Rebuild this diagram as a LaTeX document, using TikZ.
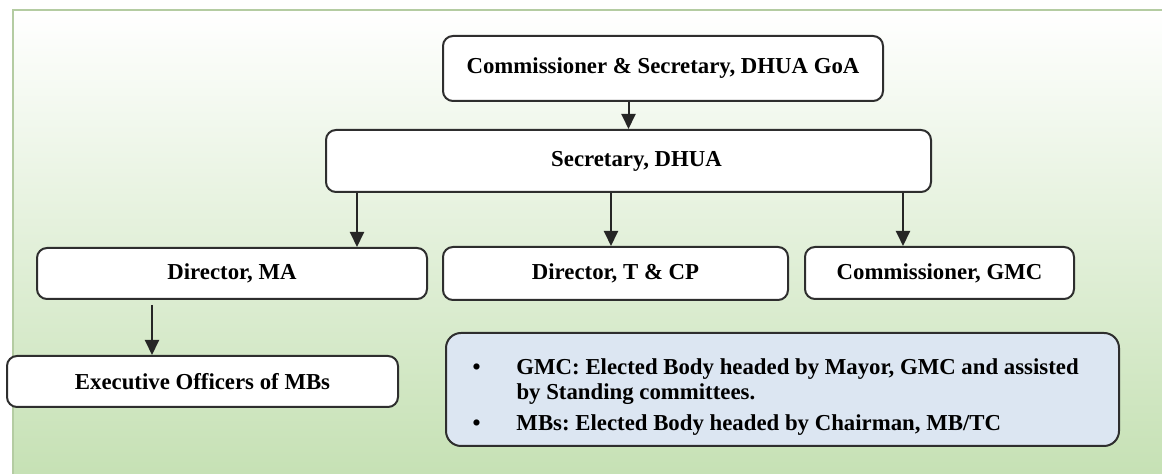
\documentclass[tikz,border=0pt]{standalone}
\usepackage{fontspec}
\setmainfont{Liberation Serif}
\usepackage{array}
\usepackage{tikz}
\usetikzlibrary{arrows.meta, positioning, calc}
\definecolor{framegreen}{HTML}{B4CCA2}
\definecolor{bggreen}{HTML}{C4E0B2}
\definecolor{bgmid}{HTML}{E8F1E1}
\definecolor{noteblue}{HTML}{DCE6F2}
\definecolor{boxline}{HTML}{2E2E2E}

\begin{document}
\begin{tikzpicture}[x=0.5pt, y=-0.5pt,
    box/.style={draw=boxline, line width=1pt, rounded corners=5pt, fill=white,
        font=\fontsize{11.4}{13}\selectfont\bfseries, inner sep=0pt},
    notebox/.style={draw=boxline, line width=1pt, rounded corners=7.5pt, fill=noteblue,
        font=\fontsize{11.4}{12.5}\selectfont\bfseries\frenchspacing, inner sep=0pt},
    arr/.style={-{Triangle[width=7pt,length=7.5pt]}, line width=1pt, draw=black!85}]
    % background
    \useasboundingbox (0,0) rectangle (1162,474);
    \begin{scope}
        \clip (0,0) rectangle (1162,474);
        \shade[top color=white, middle color=bgmid, bottom color=bggreen] (13,10) rectangle (1180,490);
        \draw[framegreen, line width=1.2pt] (13,490) -- (13,10) -- (1180,10);
    \end{scope}

    % boxes
    \node[box, minimum width=220pt, minimum height=32.5pt] (top) at (663,68.5) {Commissioner \& Secretary, DHUA GoA};
    \node[box, minimum width=302.5pt, minimum height=31pt] (sec) at (628.5,161) {\hspace*{8pt}Secretary, DHUA};
    \node[box, minimum width=195pt, minimum height=25.5pt] (dma) at (232,273.5) {Director, MA};
    \node[box, minimum width=172.5pt, minimum height=26.5pt] (dtcp) at (615.5,273.5) {Director, T \& CP};
    \node[box, minimum width=134.5pt, minimum height=26pt] (cgmc) at (939.5,273) {Commissioner, GMC};
    \node[box, minimum width=195.5pt, minimum height=25.5pt] (exo) at (202.5,381.5) {Executive Officers of MBs};

    % notes
    \node[notebox, minimum width=336.5pt, minimum height=56.5pt] (notes) at (782.5,389.5) {%
        \begin{tabular}{@{}p{22pt}@{}>{\raggedright\arraybackslash}p{288pt}@{}}
            \noalign{\vskip 8.5pt}
            \textbullet & GMC: Elected Body headed by Mayor, GMC and assisted by Standing committees.\\
            \noalign{\vskip 3pt}
            \textbullet & MBs: Elected Body headed by Chairman, MB/TC
        \end{tabular}};

    % arrows
    \draw[arr] (top.south -| sec.north) -- (sec.north);
    \draw[arr] (sec.south -| 357,0) -- (dma.north -| 357,0);
    \draw[arr] (sec.south -| 611,0) -- (dtcp.north -| 611,0);
    \draw[arr] (sec.south -| 903,0) -- (cgmc.north -| 903,0);
    \draw[arr, shorten <=2.5pt] (dma.south -| 152,0) -- (exo.north -| 152,0);
\end{tikzpicture}
\end{document}
